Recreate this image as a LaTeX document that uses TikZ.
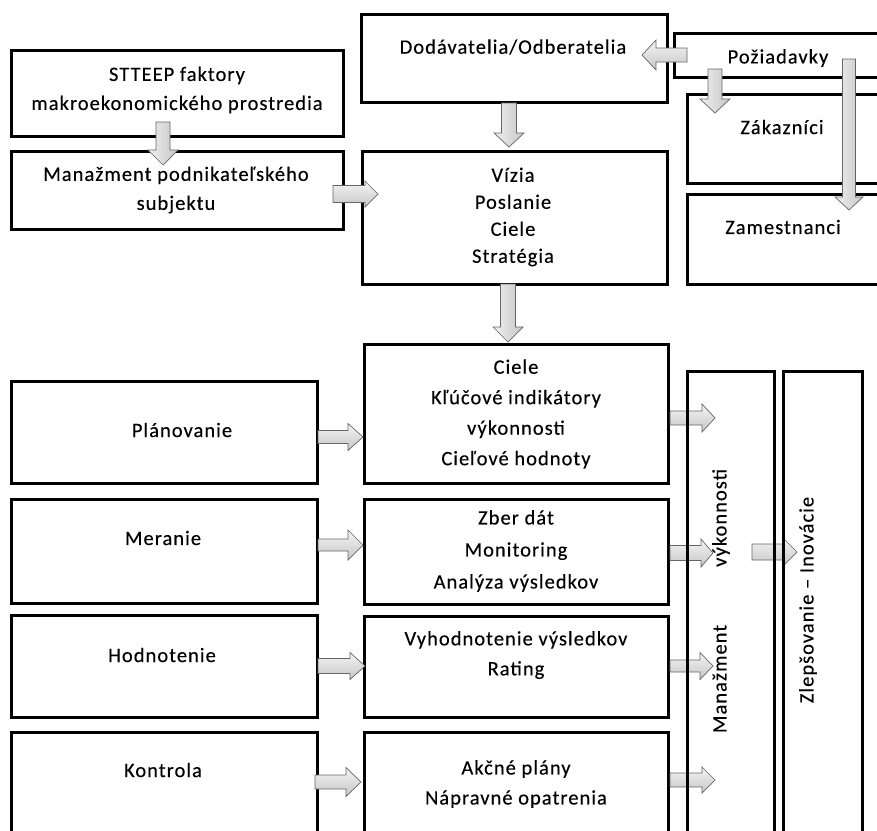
\documentclass[tikz,border=0pt]{standalone}
\usepackage{fontspec}
\setmainfont[LetterSpace=5,FakeBold=0.25]{Carlito}
\begin{document}
\begin{tikzpicture}[x=1pt,y=-1pt,
  box/.style={draw=black,line width=3pt,line join=miter,inner sep=0pt,outer sep=0pt,anchor=north west},
  txt/.style={align=center,inner sep=0pt,font=\fontsize{20.5}{29}\selectfont},
  harr/.style={draw=gray!80!black,line width=0.7pt,top color=gray!8,bottom color=gray!45,line join=miter},
  varr/.style={draw=gray!80!black,line width=0.7pt,left color=gray!12,right color=gray!45,line join=miter}]
\newcommand\arrR[6]{\path[harr] ({#1},{#3-#4}) -- ({#5},{#3-#4}) -- ({#5},{#3-#6}) -- ({#2},{#3}) -- ({#5},{#3+#6}) -- ({#5},{#3+#4}) -- ({#1},{#3+#4}) -- cycle;}
\newcommand\arrD[6]{\path[varr] ({#3-#4},{#1}) -- ({#3-#4},{#5}) -- ({#3-#6},{#5}) -- ({#3},{#2}) -- ({#3+#6},{#5}) -- ({#3+#4},{#5}) -- ({#3+#4},{#1}) -- cycle;}
\useasboundingbox (0,0) rectangle (877,830);
\clip (0,0) rectangle (877,830);
\fill[white] (0,0) rectangle (877,830);
% ---------- top section boxes ----------
\node[box,minimum width=332,minimum height=86] (stteep) at (11,50) {};
\node[box,minimum width=332,minimum height=78] (manaz) at (11,151) {};
\node[box,minimum width=306,minimum height=88] (dodav) at (361,14) {};
\node[box,minimum width=305,minimum height=133] (vizia) at (362,151) {};
\node[box,minimum width=216,minimum height=44] (poziad) at (674,33) {};
\node[box,minimum width=203,minimum height=89] (zakaz) at (687,94) {};
\node[box,minimum width=203,minimum height=90] (zamest) at (687,194) {};
% ---------- top texts ----------
\node[txt] (t-stteep) at (177,90) {STTEEP faktory\\makroekonomického prostredia};
\node[txt] (t-manaz) at (176,190) {Manažment podnikateľského\\subjektu};
\node[txt] (t-dodav) at (513,47) {Dodávatelia/Odberatelia};
\node[txt,font=\fontsize{20.5}{27}\selectfont] (t-vizia) at (513,217) {Vízia\\Poslanie\\Ciele\\Stratégia};
\node[txt] (t-poziad) at (778,58) {Požiadavky};
\node[txt] (t-zakaz) at (782,127) {Zákazníci};
\node[txt] (t-zamest) at (783,227) {Zamestnanci};
% ---------- top arrows ----------
\arrD{122}{165}{163}{7}{150}{15}
\arrR{333}{378}{194}{8.5}{365}{13}
\arrD{103}{147}{509}{7.5}{133}{15}
\path[harr] (687,48) -- (656,48) -- (656,40) -- (642,55) -- (656,70) -- (656,62) -- (687,62) -- cycle;
\arrD{69}{113}{715}{7}{99}{15}
\arrD{59}{210}{849}{6.5}{197}{14}
\arrD{284}{342}{508}{7.5}{327}{15}
% ---------- lower section boxes ----------
\node[box,minimum width=306,minimum height=102] (plan) at (11,381) {};
\node[box,minimum width=306,minimum height=104] (meran) at (11,499) {};
\node[box,minimum width=306,minimum height=102] (hodn) at (11,615) {};
\node[box,minimum width=306,minimum height=118] (kontr) at (11,732) {};
\node[box,minimum width=304,minimum height=139] (ciele) at (364,344) {};
\node[box,minimum width=304,minimum height=105] (zber) at (364,499) {};
\node[box,minimum width=304,minimum height=101] (vyhod) at (364,616) {};
\node[box,minimum width=304,minimum height=118] (akcne) at (364,732) {};
% ---------- lower arrows ----------
\arrR{318}{363}{437}{6.5}{348}{13.5}
\arrR{318}{363}{545}{6}{348}{15}
\arrR{318}{365}{666}{7.5}{350}{13.5}
\arrR{315}{361}{782}{7}{346}{14.5}
\arrR{670}{715}{418}{7}{702}{14}
\arrR{670}{713}{553}{7.5}{701}{14}
\arrR{670}{713}{666}{6}{700}{13.5}
\arrR{670}{715}{780}{7}{702}{13}
\arrR{752}{797}{552}{8}{783}{14}
% ---------- columns (drawn over arrows) ----------
\node[box,minimum width=87,minimum height=479] (mgmt) at (687,371) {};
\node[box,minimum width=79,minimum height=479] (zlep) at (783,371) {};
% ---------- lower texts ----------
\node[txt] (t-plan) at (182,430) {Plánovanie};
\node[txt] (t-meran) at (163,538) {Meranie};
\node[txt] (t-hodn) at (162,655) {Hodnotenie};
\node[txt] (t-kontr) at (163,770) {Kontrola};
\node[txt,font=\fontsize{20.5}{30.5}\selectfont] (t-ciele) at (516,414) {Ciele\\Kľúčové indikátory\\výkonnosti\\Cieľové hodnoty};
\node[txt,font=\fontsize{20.5}{32}\selectfont] (t-zber) at (516,551) {Zber dát\\Monitoring\\Analýza výsledkov};
\node[txt,font=\fontsize{20.5}{30}\selectfont] (t-vyhod) at (516,655) {Vyhodnotenie výsledkov\\Rating};
\node[txt,font=\fontsize{20.5}{30}\selectfont] (t-akcne) at (516,784) {Akčné plány\\Nápravné opatrenia};
\node[txt,rotate=90] (t-mgmt) at (721,601) {Manažment\hspace{58pt}výkonnosti};
\node[txt,rotate=90] (t-zlep) at (808,600) {Zlepšovanie – Inovácie};
\end{tikzpicture}
\end{document}
